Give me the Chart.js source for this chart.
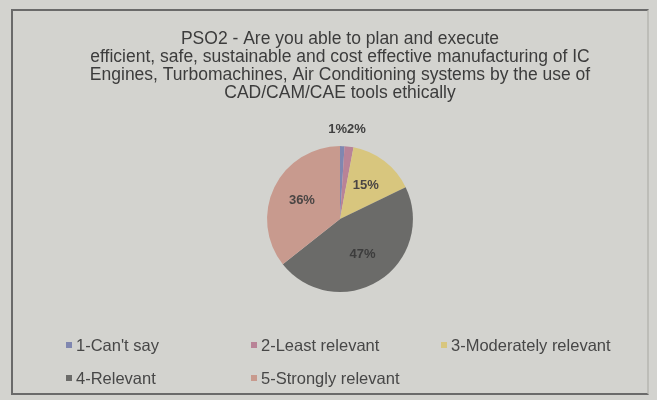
<!DOCTYPE html>
<html>
<head>
<meta charset="utf-8">
<script src="https://cdn.jsdelivr.net/npm/chart.js@4"></script>
<style>
  html, body { margin: 0; padding: 0; background: #d3d3cf; }
  #wrap { position: relative; width: 657px; height: 400px; overflow: hidden; background: #d3d3cf; }
  #frame { position: absolute; left: 11px; top: 9px; width: 638px; height: 386px; border: 2px solid #6a6a6a; border-right-color: #bdbdb8; box-sizing: border-box; }
  canvas { position: absolute; left: 0; top: 0; }
  .lg { position: absolute; font-family: "Liberation Sans", Arial, sans-serif; font-size: 16.5px; color: #474747; white-space: nowrap; line-height: 18px; }
  .lg i { display: inline-block; width: 6px; height: 6px; margin-right: 4px; vertical-align: 3px; }
</style>
</head>
<body>
<div id="wrap">
  <div id="frame"></div>
  <canvas id="c" width="657" height="400"></canvas>
  <div id="legend"></div>
</div>
<script>
const titleLines = [
  "PSO2 - Are you able to plan and execute",
  "efficient, safe, sustainable and cost effective manufacturing of IC",
  "Engines, Turbomachines, Air Conditioning systems by the use of",
  "CAD/CAM/CAE tools ethically"
];
const categories = ["1-Can't say", "2-Least relevant", "3-Moderately relevant", "4-Relevant", "5-Strongly relevant"];
const percentages = [1, 2, 15, 47, 36];
const sliceColors = ["#8087b0", "#b98397", "#d8c67e", "#6b6b69", "#c89a8e"];
const legendSlots = [[66, 336], [251, 336], [441, 336], [66, 369], [251, 369]];

const labelPlugin = {
  id: 'sliceLabels',
  afterDatasetsDraw(chart) {
    const ctx = chart.ctx;
    const meta = chart.getDatasetMeta(0);
    const data = chart.data.datasets[0].data;
    ctx.save();
    ctx.font = 'bold 13px "Liberation Sans", Arial, sans-serif';
    ctx.textAlign = 'center';
    ctx.textBaseline = 'middle';
    const outside = [];
    meta.data.forEach((arc, i) => {
      const p = arc.getProps(['x', 'y', 'startAngle', 'endAngle', 'outerRadius'], true);
      const mid = (p.startAngle + p.endAngle) / 2;
      const txt = data[i] + '%';
      if (data[i] < 5) {
        const r = p.outerRadius + 17;
        outside.push({ txt, x: p.x + Math.cos(mid) * r, y: p.y + Math.sin(mid) * r, w: ctx.measureText(txt).width });
      } else {
        const r = p.outerRadius * 0.58;
        ctx.fillStyle = i === 3 ? '#3c3c3c' : '#4a4544';
        ctx.fillText(txt, p.x + Math.cos(mid) * r, p.y + Math.sin(mid) * r);
      }
    });
    for (let k = 1; k < outside.length; k++) {
      const a = outside[k - 1], b = outside[k];
      const overlap = (a.x + a.w / 2) - (b.x - b.w / 2);
      if (overlap > 0) { a.x -= overlap / 2; b.x += overlap / 2; b.y = a.y; }
    }
    ctx.fillStyle = '#404040';
    outside.forEach(o => ctx.fillText(o.txt, o.x, o.y));
    ctx.restore();
  }
};

new Chart(document.getElementById('c'), {
  type: 'pie',
  data: {
    labels: categories,
    datasets: [{ data: percentages, backgroundColor: sliceColors, borderWidth: 0 }]
  },
  options: {
    responsive: false,
    animation: false,
    layout: { padding: { left: 30, right: 7, top: 0, bottom: 108 } },
    plugins: {
      legend: { display: false },
      tooltip: { enabled: false },
      title: {
        display: true,
        text: titleLines,
        color: '#3c3c3c',
        font: { family: '"Liberation Sans", Arial, sans-serif', size: 17.5, weight: 'normal', lineHeight: 1.03 },
        padding: { top: 30, bottom: 44 }
      }
    }
  },
  plugins: [labelPlugin]
});

const lg = document.getElementById('legend');
categories.forEach((name, i) => {
  const d = document.createElement('div');
  d.className = 'lg';
  d.style.left = legendSlots[i][0] + 'px';
  d.style.top = legendSlots[i][1] + 'px';
  const m = document.createElement('i');
  m.style.background = sliceColors[i];
  d.appendChild(m);
  d.appendChild(document.createTextNode(name));
  lg.appendChild(d);
});
</script>
</body>
</html>
